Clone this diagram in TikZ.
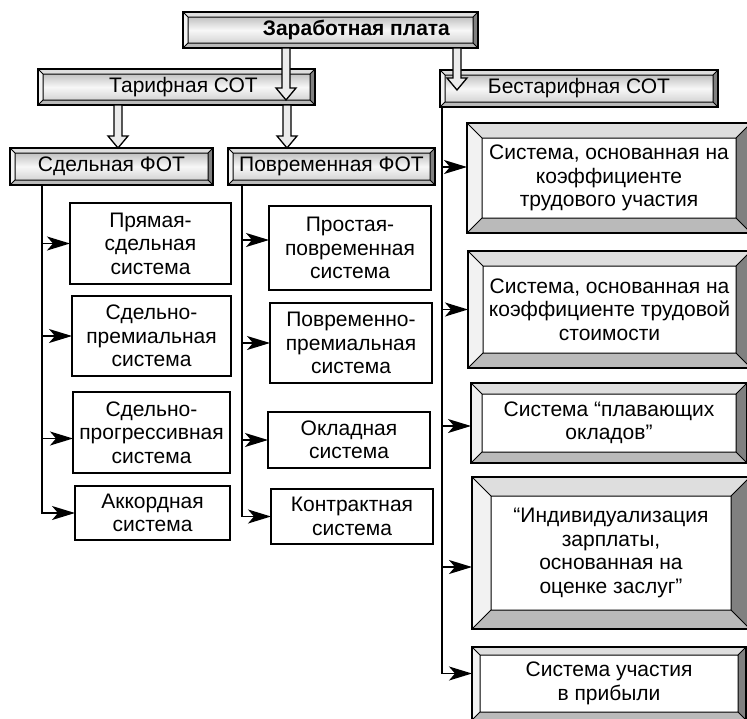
\documentclass[tikz,border=0pt]{standalone}
\usepackage{fontspec}
\setmainfont{Liberation Sans}
\usetikzlibrary{arrows.meta,calc}
\newcommand{\Bevel}[1]{% frame of width #1 inside a node
  \path (path picture bounding box.north west) coordinate (bnw)
        (path picture bounding box.north east) coordinate (bne)
        (path picture bounding box.south west) coordinate (bsw)
        (path picture bounding box.south east) coordinate (bse);
  \path ([shift={(#1pt,-#1pt)}]bnw) coordinate (inw)
        ([shift={(-#1pt,-#1pt)}]bne) coordinate (ine)
        ([shift={(#1pt,#1pt)}]bsw) coordinate (isw)
        ([shift={(-#1pt,#1pt)}]bse) coordinate (ise);
  \fill[black!13] (bnw) -- (bne) -- (ine) -- (inw) -- cycle;
  \fill[black!5] (bnw) -- (inw) -- (isw) -- (bsw) -- cycle;
  \fill[black!50] (bne) -- (bse) -- (ise) -- (ine) -- cycle;
  \fill[black!27] (bsw) -- (isw) -- (ise) -- (bse) -- cycle;
  \draw[line width=1pt] (bnw) -- (inw) (bne) -- (ine) (bsw) -- (isw) (bse) -- (ise) (inw) rectangle (ise);
}
\tikzset{
  every node/.style={font=\fontsize{21}{23.5}\selectfont, align=center, inner sep=0pt, outer sep=0pt},
  plainbox/.style={draw, line width=1.6pt, anchor=north west},
  headbox/.style={draw, line width=1.6pt, anchor=north west, top color=black!32, bottom color=black!22, middle color=black!3, path picture={\Bevel{5}}},
  sysbox/.style={draw, line width=1.6pt, anchor=north west, fill=white, path picture={\Bevel{#1}}},
  thinarr/.style={line width=1.5pt, -{Stealth[length=23pt,width=14pt,inset=6pt]}},
  hollowarr/.style={draw, line width=1.3pt, fill=black!8, line join=miter, to path={
    ($(\tikztostart)+(-4pt,0)$) -- ($(\tikztotarget)+(-4pt,12pt)$) -- ($(\tikztotarget)+(-10pt,12pt)$)
    -- (\tikztotarget) -- ($(\tikztotarget)+(10pt,12pt)$) -- ($(\tikztotarget)+(4pt,12pt)$)
    -- ($(\tikztostart)+(4pt,0)$) -- cycle}}
}
\begin{document}
\begin{tikzpicture}[x=1pt,y=-1pt]
  \path[use as bounding box, clip] (0,0) rectangle (747,718);
  % top and the two kinds of pay systems
  \node[headbox, minimum width=295pt, minimum height=36pt] (zp) at (183,12) {\hspace*{52pt}\textbf{Заработная плата}};
  \node[headbox, minimum width=277pt, minimum height=36pt] (tar) at (38,69) {\hspace*{14pt}Тарифная СОТ};
  \node[headbox, minimum width=278pt, minimum height=37pt] (btar) at (440,70) {Бестарифная СОТ};
  \node[headbox, minimum width=203pt, minimum height=37pt] (sdel) at (10,148) {Сдельная ФОТ};
  \node[headbox, minimum width=207pt, minimum height=37pt] (povr) at (228,148) {Повременная ФОТ};
  % piece-rate forms
  \node[plainbox, minimum width=161pt, minimum height=81pt] (s1) at (70,203) {Прямая-\\сдельная\\система};
  \node[plainbox, minimum width=159pt, minimum height=80pt] (s2) at (72,296) {Сдельно-\\премиальная\\система};
  \node[plainbox, minimum width=157pt, minimum height=81pt] (s3) at (73,392) {Сдельно-\\прогрессивная\\система};
  \node[plainbox, minimum width=155pt, minimum height=54pt] (s4) at (75,486) {Аккордная\\система};
  % time-rate forms
  \node[plainbox, minimum width=162pt, minimum height=84pt] (p1) at (269,206) {Простая-\\повременная\\система};
  \node[plainbox, minimum width=162pt, minimum height=80pt] (p2) at (270,303) {Повременно-\\премиальная\\система};
  \node[plainbox, minimum width=162pt, minimum height=56pt] (p3) at (268,412) {Окладная\\система};
  \node[plainbox, minimum width=162pt, minimum height=55pt] (p4) at (271,489) {Контрактная\\система};
  % tariff-free systems
  \node[sysbox=15, minimum width=284pt, minimum height=110pt] (r1) at (467,123) {Система, основанная на\\коэффициенте\\трудового участия};
  \node[sysbox=15, minimum width=283pt, minimum height=117pt] (r2) at (468,251) {Система, основанная на\\коэффициенте трудовой\\стоимости};
  \node[sysbox=11, minimum width=276pt, minimum height=80pt] (r3) at (471,383) {Система “плавающих\\окладов”};
  \node[sysbox=19, minimum width=278pt, minimum height=152pt] (r4) at (472,477) {“Индивидуализация\\зарплаты,\\основанная на\\оценке заслуг”};
  \node[sysbox=8, minimum width=274pt, minimum height=73pt] (r5) at (472,647) {Система участия\\в прибыли};
  % trunks and arrows
  \coordinate (L) at (42,185);
  \coordinate (M) at (242,185);
  \coordinate (R) at (442,107);
  \foreach \b/\s in {s1/0,s2/0,s3/-6} {
    \path ([yshift=\s pt]\b.west) coordinate (t\b);
    \draw[thinarr] (L |- t\b) -- (t\b);
  }
  \draw[thinarr] (L) |- (s4.west);
  \foreach \b/\s in {p1/8,p2/0,p3/0} {
    \path ([yshift=\s pt]\b.west) coordinate (t\b);
    \draw[thinarr] (M |- t\b) -- (t\b);
  }
  \draw[thinarr] (M) |- (p4.west);
  \foreach \b/\s in {r1/11,r2/0,r3/-3,r4/-14} {
    \path ([yshift=\s pt]\b.west) coordinate (t\b);
    \draw[thinarr] (R |- t\b) -- (t\b);
  }
  \path ([yshift=10pt]r5.west) coordinate (tr5);
  \draw[thinarr] (R) |- (tr5);
  % hollow arrows
  \coordinate (h1) at (286,100);
  \coordinate (h2) at (457,90);
  \coordinate (h3) at (118,0);
  \coordinate (h4) at (287,0);
  \draw[hollowarr] (zp.south -| h1) to (h1);
  \draw[hollowarr] (zp.south -| h2) to (h2);
  \draw[hollowarr] (tar.south -| h3) to (sdel.north -| h3);
  \draw[hollowarr] (tar.south -| h4) to (povr.north -| h4);
\end{tikzpicture}
\end{document}
